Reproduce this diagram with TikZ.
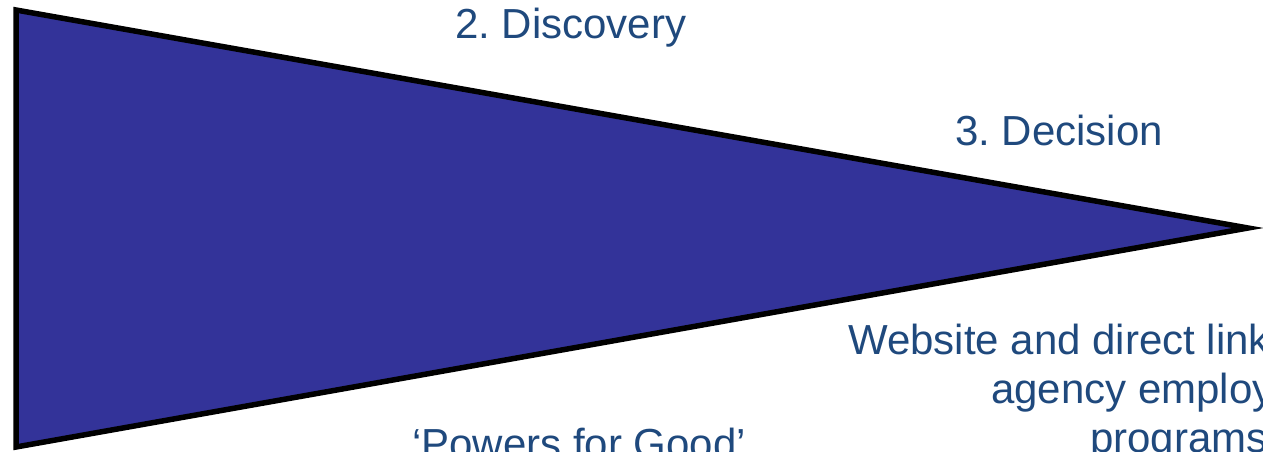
\documentclass[tikz,border=0pt]{standalone}
\usepackage{fontspec}
\setmainfont{Liberation Sans}
\usetikzlibrary{positioning}
\definecolor{FunnelFill}{HTML}{333399}
\definecolor{StageText}{HTML}{1F497D}
\frenchspacing

\begin{document}
\begin{tikzpicture}[
  x=1pt, y=-1pt,
  funnel/.style={draw=black, fill=FunnelFill, line width=5.5pt, line join=miter},
  lbl/.style={text=StageText, font=\fontsize{42}{48}\selectfont, inner sep=0pt, anchor=base west}
]
  \useasboundingbox (0,0) rectangle (1263,452);
  \clip (0,0) rectangle (1263,452);
  \coordinate (top) at (16,10);
  \coordinate (tip) at (1248,228);
  \coordinate (bottom) at (16,447);
  \draw[funnel] (top) -- (tip) -- (bottom) -- cycle;
  \node[lbl] (discovery) at (455,38) {2. Discovery};
  \node[lbl] (decision) at (955,145) {3. Decision};
  \node[lbl] (web1) at (848,354) {Website and direct links};
  \node[lbl] (web2) at (991,403) {agency employment};
  \node[lbl] (web3) at (1090,452) {programs};
  \node[lbl] (powers) at (412,458) {‘Powers for Good’};
\end{tikzpicture}
\end{document}
